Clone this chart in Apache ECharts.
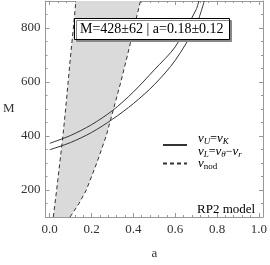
<!DOCTYPE html>
<html><head><meta charset="utf-8">
<script src="https://cdn.jsdelivr.net/npm/echarts@6/dist/echarts.min.js"></script>
<style>html,body{margin:0;padding:0;background:#fff}#c{width:270px;height:265px}</style>
</head><body><div id="c"></div>
<script>
// ---- data ----
const xMajor = [0, 0.2, 0.4, 0.6, 0.8, 1.0];
const xMinor = [0.04,0.08,0.12,0.16,0.24,0.28,0.32,0.36,0.44,0.48,0.52,0.56,0.64,0.68,0.72,0.76,0.84,0.88,0.92,0.96];
const yMajor = [200, 400, 600, 800];
const yMinor = [150,250,300,350,450,500,550,650,700,750,850];

// nu_U = nu_K
const curveUA = [0, 0.1, 0.2, 0.3, 0.4, 0.5, 0.6, 0.7, 0.713];
const curveUM = [373, 402, 442, 494, 563, 645, 730, 868, 900];
// nu_L = nu_theta - nu_r
const curveLA = [0, 0.1, 0.2, 0.3, 0.4, 0.5, 0.6, 0.7, 0.739];
const curveLM = [349, 376, 413, 462, 520, 590, 680, 810, 900];
// nu_nod boundaries
const nodLeftM = [100, 200, 300, 400, 500, 600, 700, 800, 900];
const nodLeftA = [0.017, 0.033, 0.048, 0.063, 0.076, 0.088, 0.100, 0.113, 0.125];
const nodRightM = [100, 150, 200, 300, 400, 500, 600, 700, 800, 900];
const nodRightA = [0.097, 0.14, 0.175, 0.225, 0.27, 0.305, 0.34, 0.372, 0.403, 0.434];

const boxText = 'M=428±62 | a=0.18±0.12';
const modelText = 'RP2 model';

// ---- build ----
const zip = (a, m) => a.map((v, i) => [v, m[i]]);
const serif = 'Liberation Serif';
const frame = '#999';
const ink = '#333';

function xAx(pos, major, ticks, len, labels) {
  return {
    type: 'value', min: -0.02, max: 1.02, position: pos, offset: 0,
    axisLine: {show: major, onZero: false, lineStyle: {color: frame, width: 1}},
    axisTick: {show: true, inside: true, length: len, customValues: ticks, lineStyle: {color: frame}},
    axisLabel: labels ? {show: true, customValues: ticks, formatter: v => v.toFixed(1),
      fontFamily: serif, fontSize: 13, color: ink, margin: 6} : {show: false},
    splitLine: {show: false}, minorTick: {show: false}
  };
}
function yAx(pos, major, ticks, len, labels) {
  return {
    type: 'value', min: 100, max: 900, position: pos, offset: 0,
    axisLine: {show: major, onZero: false, lineStyle: {color: frame, width: 1}},
    axisTick: {show: true, inside: true, length: len, customValues: ticks, lineStyle: {color: frame}},
    axisLabel: labels ? {show: true, customValues: ticks, fontFamily: serif, fontSize: 13, color: ink, margin: 5} : {show: false},
    splitLine: {show: false}, minorTick: {show: false}
  };
}

const xAxes = [xAx('bottom', true, xMajor, 4, true), xAx('bottom', false, xMinor, 2, false),
               xAx('top', true, xMajor, 4, false), xAx('top', false, xMinor, 2, false)];
Object.assign(xAxes[0], {name: 'a', nameLocation: 'middle', nameGap: 30,
  nameTextStyle: {fontFamily: serif, fontSize: 13, color: ink}});
const yAxes = [yAx('left', true, yMajor, 4, true), yAx('left', false, yMinor, 2, false),
               yAx('right', true, yMajor, 4, false), yAx('right', false, yMinor, 2, false)];
Object.assign(yAxes[0], {name: 'M', nameLocation: 'middle', nameGap: 31, nameRotate: 0,
  nameTextStyle: {fontFamily: serif, fontSize: 13, color: ink}});

const lineBase = {type: 'line', xAxisIndex: 0, yAxisIndex: 0, symbol: 'none', showSymbol: false, animation: false};
const rich = {
  n: {fontFamily: serif, fontStyle: 'italic', fontSize: 13, color: '#000'},
  o: {fontFamily: serif, fontSize: 12, color: '#000'},
  s: {fontFamily: serif, fontStyle: 'italic', fontSize: 9, color: '#000', padding: [6, 0, 0, 0]},
  r: {fontFamily: serif, fontSize: 9, color: '#000', padding: [6, 0, 0, 0]}
};

const option = {
  animation: false,
  grid: {left: 41, right: 7, top: 1, bottom: 39, containLabel: false},
  xAxis: xAxes,
  yAxis: yAxes,
  title: [{
    text: boxText, left: 74, top: 18, padding: [4, 6, 4, 6],
    borderColor: '#000', borderWidth: 1, backgroundColor: '#fff',
    shadowColor: '#888', shadowBlur: 0, shadowOffsetX: 2, shadowOffsetY: 2,
    textStyle: {fontFamily: serif, fontSize: 14, fontWeight: 'normal', color: '#000'}
  }, {
    text: modelText, left: 197, top: 203, padding: 0,
    textStyle: {fontFamily: serif, fontSize: 13, fontWeight: 'normal', color: '#000'}
  }],
  legend: {
    orient: 'vertical', left: 162, top: 132, itemWidth: 24, itemHeight: 10, itemGap: -2,
    data: ['U', 'nod'], selectedMode: false, padding: 0,
    itemStyle: {opacity: 0},
    formatter: n => n === 'U'
      ? '{n|ν}{s|U}{o|=}{n|ν}{s|K}\n{n|ν}{s|L}{o|=}{n|ν}{s|θ}{o|−}{n|ν}{s|r}'
      : '{n|ν}{r|nod}',
    textStyle: {fontFamily: serif, fontSize: 13, lineHeight: 13, padding: [0, 0, 0, 6], rich: rich}
  },
  series: [
    {
      type: 'custom', name: 'fill', xAxisIndex: 0, yAxisIndex: 0, silent: true, z: 1,
      data: [[0, 500]],
      renderItem: (params, api) => {
        const pts = [];
        nodLeftM.forEach((m, i) => pts.push(api.coord([nodLeftA[i], m])));
        for (let i = nodRightM.length - 1; i >= 0; i--) pts.push(api.coord([nodRightA[i], nodRightM[i]]));
        return {type: 'polygon', shape: {points: pts}, style: {fill: '#dadada', stroke: null}};
      }
    },
    Object.assign({}, lineBase, {name: 'U', data: zip(curveUA, curveUM), smooth: 0.3, z: 3,
      lineStyle: {color: ink, width: 1, type: 'solid'}, itemStyle: {color: ink}}),
    Object.assign({}, lineBase, {name: 'U', data: zip(curveLA, curveLM), smooth: 0.3, z: 3,
      lineStyle: {color: ink, width: 1, type: 'solid'}, itemStyle: {color: ink}}),
    Object.assign({}, lineBase, {name: 'nod', data: zip(nodLeftA, nodLeftM), smooth: false, z: 3,
      lineStyle: {color: ink, width: 1, type: [4, 3]}, itemStyle: {color: ink}}),
    Object.assign({}, lineBase, {name: 'nod', data: zip(nodRightA, nodRightM), smooth: false, z: 3,
      lineStyle: {color: ink, width: 1, type: [4, 3]}, itemStyle: {color: ink}})
  ]
};
const chart = echarts.init(document.getElementById('c'), null, {renderer: 'canvas'});
chart.setOption(option);
</script></body></html>
